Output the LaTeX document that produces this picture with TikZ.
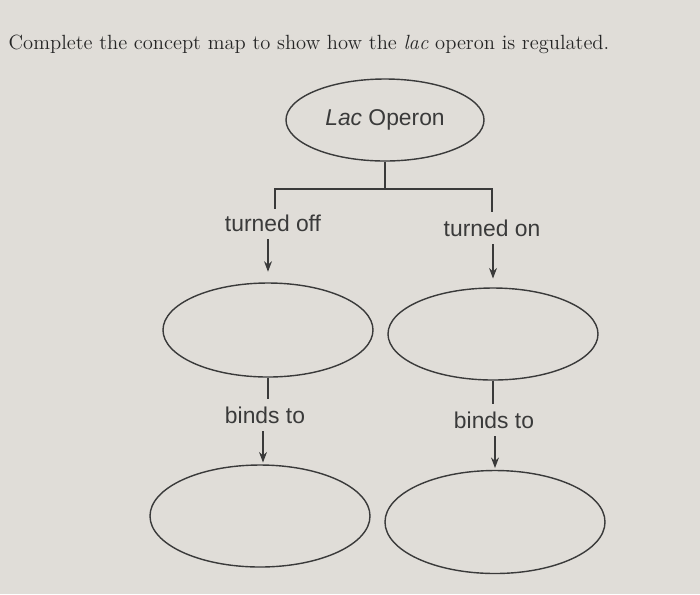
\documentclass[tikz,border=0pt]{standalone}
\usepackage{fontspec}
\setsansfont{Liberation Sans}
\usepackage{tikz}
\usetikzlibrary{shapes.geometric, positioning, arrows.meta, calc}
\definecolor{paper}{RGB}{224,221,216}
\definecolor{ink}{RGB}{58,58,58}

\begin{document}
\begin{tikzpicture}[>={Stealth[length=6pt, width=4.5pt]}, line width=0.8pt, draw=ink,
    oval/.style={draw=ink, ellipse, inner sep=0pt, line width=0.8pt,
                 minimum width=4.2cm, minimum height=1.88cm},
    link/.style={font=\sffamily\fontsize{13}{15}\selectfont, text=ink,
                 inner sep=4pt},
    conn/.style={ink, line width=0.8pt},
    arr/.style={->, ink, line width=0.8pt}]

    % --- Page ---
    \fill[paper] (0,0) rectangle (14,-11.88);
    \useasboundingbox (0,0) rectangle (14,-11.88);
    \node[anchor=base west, inner sep=0pt, text=black!85,
          font=\fontsize{11.7}{14}\selectfont] (title) at (0.16,-0.98)
      {Complete the concept map to show how the \textit{lac} operon is regulated.};

    % --- Top ---
    \node[oval, minimum width=3.96cm, minimum height=1.64cm,
          font=\sffamily\fontsize{13}{15}\selectfont, text=ink] (lac) at (7.70,-2.40)
      {\textit{Lac} Operon};
    \coordinate (split) at (7.70,-3.78);

    % --- Link words ---
    \node[link] (off) at (5.46,-4.46) {turned off};
    \node[link] (on)  at (9.84,-4.56) {turned on};

    % --- Middle ---
    \node[oval] (midL) at (5.36,-6.60) {};
    \node[oval, minimum height=1.84cm] (midR) at (9.86,-6.68) {};

    \node[link] (bindL) at (5.30,-8.30) {binds to};
    \node[link] (bindR) at (9.88,-8.40) {binds to};

    % --- Bottom ---
    \node[oval, minimum width=4.4cm, minimum height=2.04cm] (lowL) at (5.20,-10.32) {};
    \node[oval, minimum width=4.4cm, minimum height=2.06cm] (lowR) at (9.90,-10.44) {};

    % --- Edges ---
    \draw[conn] (lac) -- (split);
    \draw[conn] (split) -| ([yshift=-1pt]off.north -| 5.50,0);
    \draw[conn] (split) -| (on.north);
    \draw[arr, shorten >=6pt] (off.south -| midL.north) -- (midL.north);
    \draw[arr, shorten >=5pt] (on.south -| midR.north) -- (midR.north);
    \draw[conn] (midL) -- (midL.south |- bindL.north);
    \draw[conn] (midR) -- (midR.south |- bindR.north);
    \draw[arr, shorten >=1pt] (bindL.south -| 5.26,0) -- (lowL.north -| 5.26,0);
    \draw[arr, shorten >=1pt] (bindR.south -| lowR.north) -- (lowR.north);
  \end{tikzpicture}
\end{document}
